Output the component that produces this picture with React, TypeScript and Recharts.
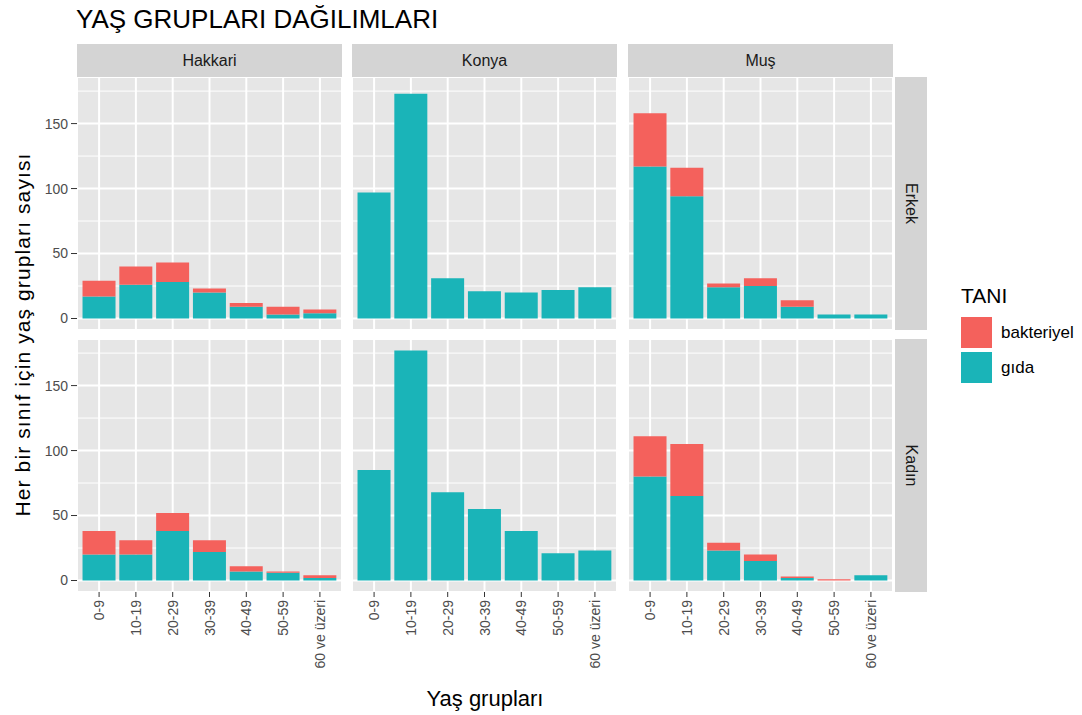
import React from 'react';
import { BarChart, Bar, XAxis, YAxis, CartesianGrid } from 'recharts';

// ---------- data ----------
const ageGroups = ['0-9', '10-19', '20-29', '30-39', '40-49', '50-59', '60 ve üzeri'];
const provinces = ['Hakkari', 'Konya', 'Muş'];
const genders = ['Erkek', 'Kadın'];
const seriesNames = ['bakteriyel', 'gıda'];
const yTicks = [0, 50, 100, 150];
const yMinorTicks = [25, 75, 125, 175];

const hakkariErkekGida = [17, 26, 28, 20, 9, 3, 4];
const hakkariErkekBakteriyel = [12, 14, 15, 3, 3, 6, 3];
const konyaErkekGida = [97, 173, 31, 21, 20, 22, 24];
const konyaErkekBakteriyel = [0, 0, 0, 0, 0, 0, 0];
const musErkekGida = [117, 94, 24, 25, 9, 3, 3];
const musErkekBakteriyel = [41, 22, 3, 6, 5, 0, 0];

const hakkariKadinGida = [20, 20, 38, 22, 7, 6, 2];
const hakkariKadinBakteriyel = [18, 11, 14, 9, 4, 1, 2];
const konyaKadinGida = [85, 177, 68, 55, 38, 21, 23];
const konyaKadinBakteriyel = [0, 0, 0, 0, 0, 0, 0];
const musKadinGida = [80, 65, 23, 15, 2, 0, 4];
const musKadinBakteriyel = [31, 40, 6, 5, 1, 1, 0];

// ---------- styles ----------
const RED = '#F4615C';
const TEAL = '#1AB4B8';
const PANEL_BG = '#E6E6E6';
const STRIP_BG = '#D4D4D4';
const FONT = '"Liberation Sans", Arial, Helvetica, sans-serif';
const Y_DOMAIN: [number, number] = [-8.85, 185.85];

const PW = 265;
const PH = 253;
const YW = 45;
const XH = 90;
const COLS_X = [77, 352, 628];
const ROWS_Y = [77, 339];
const STRIP_TOP = 44;
const STRIP_H = 33;
const RSTRIP_X = 895;
const RSTRIP_W = 32;

const makeRows = (g: number[], b: number[]) =>
  ageGroups.map((grp, i) => ({ group: grp, gida: g[i], bakteriyel: b[i] }));

const panels = [
  [makeRows(hakkariErkekGida, hakkariErkekBakteriyel), makeRows(konyaErkekGida, konyaErkekBakteriyel), makeRows(musErkekGida, musErkekBakteriyel)],
  [makeRows(hakkariKadinGida, hakkariKadinBakteriyel), makeRows(konyaKadinGida, konyaKadinBakteriyel), makeRows(musKadinGida, musKadinBakteriyel)],
];

const XTick = (props: any) => {
  const { x, y, payload } = props;
  return (
    <text
      x={x}
      y={y}
      transform={`rotate(-90, ${x}, ${y})`}
      textAnchor="end"
      dominantBaseline="central"
      fontSize={14}
      fontFamily={FONT}
      fill="#4D4D4D"
    >
      {payload.value}
    </text>
  );
};

function Panel({ data, showY, showX }: { data: any[]; showY: boolean; showX: boolean }) {
  const width = PW + (showY ? YW : 0);
  const height = PH + (showX ? XH : 0);
  return (
    <BarChart
      width={width}
      height={height}
      data={data}
      margin={{ top: 0, right: 0, bottom: 0, left: 0 }}
      barCategoryGap="5%"
    >
      <CartesianGrid yAxisId="minor" vertical={false} stroke="#FFFFFF" strokeWidth={1} fill={PANEL_BG} fillOpacity={1} />
      <CartesianGrid stroke="#FFFFFF" strokeWidth={2} />
      <XAxis
        dataKey="group"
        hide={!showX}
        height={XH}
        interval={0}
        padding={{ left: PW / 72, right: PW / 72 }}
        axisLine={false}
        tickLine={{ stroke: '#333333' }}
        tickSize={5}
        tickMargin={3}
        tick={<XTick />}
      />
      <YAxis
        domain={Y_DOMAIN}
        ticks={yTicks}
        hide={!showY}
        width={YW}
        allowDataOverflow
        axisLine={false}
        tickLine={{ stroke: '#333333' }}
        tickSize={6}
        tickMargin={3}
        tick={{ fontSize: 14, fill: '#4D4D4D', fontFamily: FONT }}
      />
      <YAxis yAxisId="minor" domain={Y_DOMAIN} ticks={yMinorTicks} hide allowDataOverflow />
      <Bar dataKey="gida" stackId="s" fill={TEAL} isAnimationActive={false} />
      <Bar dataKey="bakteriyel" stackId="s" fill={RED} isAnimationActive={false} />
    </BarChart>
  );
}

export default function App() {
  const yMid = (ROWS_Y[0] + ROWS_Y[1] + PH) / 2;
  return (
    <div style={{ position: 'absolute', left: 0, top: 0, width: 1082, height: 715, background: '#FFFFFF', fontFamily: FONT }}>
      <svg width={1082} height={715} style={{ position: 'absolute', left: 0, top: 0 }}>
        <text x={76} y={28} fontSize={26} fill="#000000" fontFamily={FONT}>
          YAŞ GRUPLARI DAĞILIMLARI
        </text>
        {provinces.map((p, c) => (
          <g key={p}>
            <rect x={COLS_X[c]} y={STRIP_TOP} width={PW} height={STRIP_H} fill={STRIP_BG} />
            <text x={COLS_X[c] + PW / 2} y={STRIP_TOP + STRIP_H / 2} textAnchor="middle" dominantBaseline="central" fontSize={16} fill="#1A1A1A" fontFamily={FONT}>
              {p}
            </text>
          </g>
        ))}
        {genders.map((g, r) => (
          <g key={g}>
            <rect x={RSTRIP_X} y={ROWS_Y[r]} width={RSTRIP_W} height={PH} fill={STRIP_BG} />
            <text
              x={RSTRIP_X + RSTRIP_W / 2}
              y={ROWS_Y[r] + PH / 2}
              transform={`rotate(90, ${RSTRIP_X + RSTRIP_W / 2}, ${ROWS_Y[r] + PH / 2})`}
              textAnchor="middle"
              dominantBaseline="central"
              fontSize={16}
              fill="#1A1A1A"
              fontFamily={FONT}
            >
              {g}
            </text>
          </g>
        ))}
        <text
          x={22}
          y={yMid}
          transform={`rotate(-90, 22, ${yMid})`}
          textAnchor="middle"
          dominantBaseline="central"
          fontSize={21}
          letterSpacing={1.1}
          fill="#000000"
          fontFamily={FONT}
        >
          Her bir sınıf  için yaş grupları sayısı
        </text>
        <text x={(COLS_X[0] + COLS_X[2] + PW) / 2} y={706} textAnchor="middle" fontSize={22} fill="#000000" fontFamily={FONT}>
          Yaş grupları
        </text>
        <text x={961} y={303} fontSize={21} fill="#000000" fontFamily={FONT}>
          TANI
        </text>
        {seriesNames.map((s, i) => (
          <g key={s}>
            <rect x={961} y={317 + i * 35} width={31} height={31} fill={i === 0 ? RED : TEAL} />
            <text x={1001} y={332.5 + i * 35} dominantBaseline="central" fontSize={17} fill="#000000" fontFamily={FONT}>
              {s}
            </text>
          </g>
        ))}
      </svg>
      {panels.map((row, r) =>
        row.map((data, c) => {
          const showY = c === 0;
          const showX = r === 1;
          return (
            <div
              key={`${r}-${c}`}
              style={{ position: 'absolute', left: COLS_X[c] - (showY ? YW : 0), top: ROWS_Y[r] }}
            >
              <Panel data={data} showY={showY} showX={showX} />
            </div>
          );
        })
      )}
    </div>
  );
}
